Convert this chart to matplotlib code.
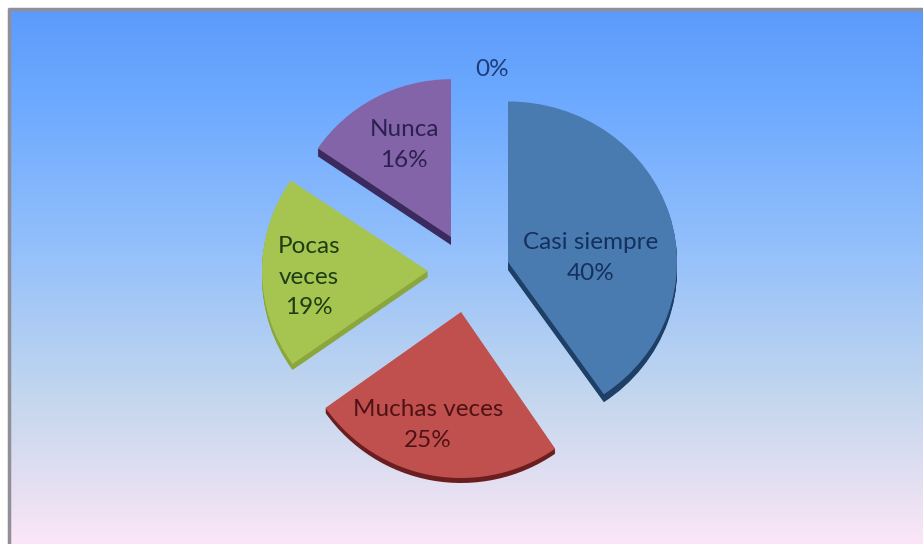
import numpy as np
import matplotlib
matplotlib.use("Agg")
import matplotlib.pyplot as plt
from matplotlib.colors import LinearSegmentedColormap
from matplotlib.patches import Wedge
from matplotlib.transforms import Affine2D

plt.rcParams["font.family"] = ["Lato", "DejaVu Sans"]

labels = ["Casi siempre", "Muchas veces", "Pocas\nveces", "Nunca"]
values = [40.4, 24.8, 19.3, 15.5]
zero_label = "0%"

# look of each slice
face_colors = ["#4a7bb0", "#c0504d", "#a5c450", "#8464a8"]
side_colors = ["#1e3f66", "#6b1e20", "#8aa63c", "#3b2a5e"]
text_colors = ["#14305e", "#4f1216", "#1f3d12", "#2c2050"]
apex = [(508, 262), (461, 312), (428, 271), (451, 237)]
label_pos = [(591, 258), (428, 425), (309, 277), (404, 145)]
radius = [169, 166, 166, 161]
tilt = [0.95, 1.0, 0.97, 0.98]
depth = [8, 5, 6, 8]

fig = plt.figure(figsize=(9.23, 5.44), dpi=100)
ax = fig.add_axes([0, 0, 1, 1])
ax.axis("off")

# background gradient, inside a grey frame
bg = LinearSegmentedColormap.from_list(
    "bg",
    [(0.0, "#5c9bfb"), (0.18, "#6eaaff"), (0.45, "#94c0fb"),
     (0.72, "#c2d6ee"), (0.9, "#e6e0f2"), (1.0, "#fbe6f8")],
)
ax.imshow(np.linspace(0, 1, 256).reshape(-1, 1), cmap=bg, aspect="auto",
          extent=(9, 923, 544, 9), zorder=0)
ax.set_xlim(0, 923)
ax.set_ylim(544, 0)
ax.plot([9, 9, 923], [544, 9, 9], color="#8f8f95", lw=2.5, zorder=1)

# y axis points down here, so growing angles run clockwise from the top
start = -90.0
for i, v in enumerate(values):
    sweep = v * 3.6
    cx, cy = apex[i]
    for d in range(depth[i], 0, -1):
        tr = Affine2D().scale(1, tilt[i]).translate(cx, cy + d) + ax.transData
        ax.add_patch(Wedge((0, 0), radius[i], start, start + sweep,
                           fc=side_colors[i], ec="none", transform=tr, zorder=2))
    tr = Affine2D().scale(1, tilt[i]).translate(cx, cy) + ax.transData
    ax.add_patch(Wedge((0, 0), radius[i], start, start + sweep,
                       fc=face_colors[i], ec="none", transform=tr, zorder=3))
    ax.text(label_pos[i][0], label_pos[i][1], f"{labels[i]}\n{v:.0f}%",
            color=text_colors[i], fontsize=17.5, ha="center", va="center",
            linespacing=1.58, zorder=4)
    start += sweep

ax.text(492, 69, zero_label, color="#1d3c78", fontsize=17.5,
        ha="center", va="center", zorder=4)

fig.savefig("out.png", dpi=100)
